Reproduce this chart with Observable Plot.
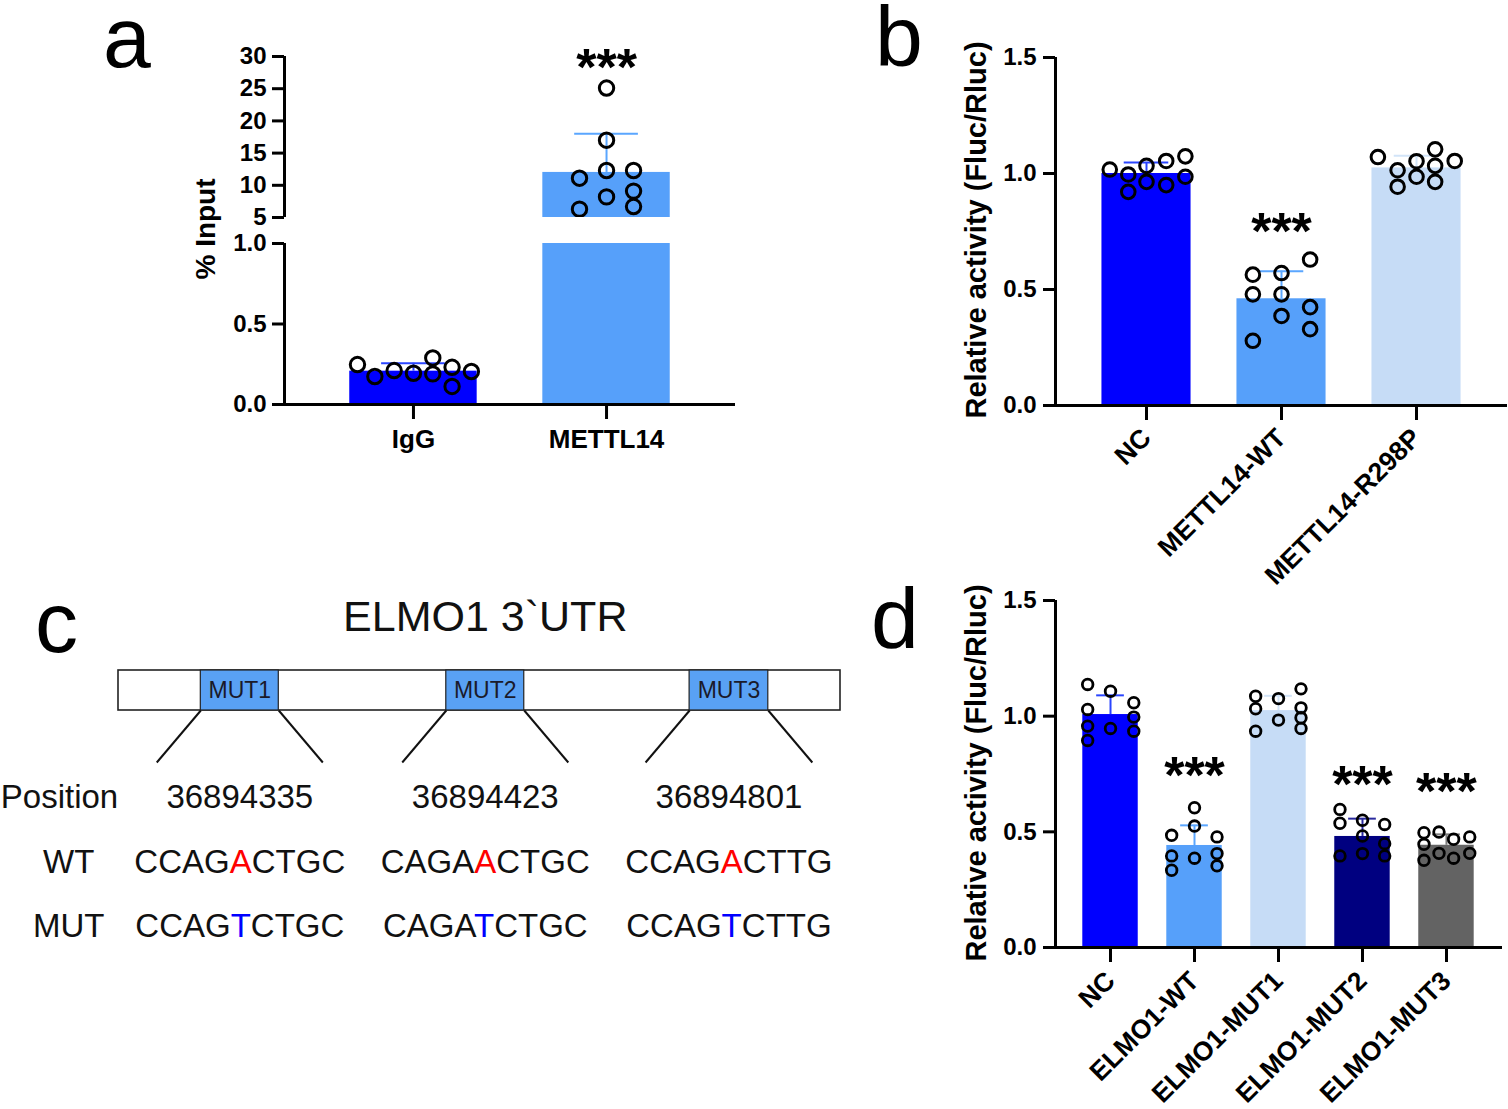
<!DOCTYPE html>
<html><head><meta charset="utf-8">
<script src="https://cdn.jsdelivr.net/npm/d3@7"></script>
<script src="https://cdn.jsdelivr.net/npm/@observablehq/plot@0.6"></script>
<style>
body{margin:0;background:#fff;}
#page{position:relative;width:1508px;height:1109px;overflow:hidden;background:#fff;}
.panel{position:absolute;}
#overlay{position:absolute;left:0;top:0;pointer-events:none;}
</style></head><body>
<div id="page">
  <div id="paUp" class="panel" style="left:0;top:0"></div>
  <div id="paLow" class="panel" style="left:0;top:230px"></div>
  <div id="pb" class="panel" style="left:860px;top:0"></div>
  <div id="pd" class="panel" style="left:860px;top:560px"></div>
  <div id="pc" class="panel" style="left:0;top:580px"></div>
  <svg id="overlay" width="1508" height="1109"></svg>
</div>
<script>
// ---------------- DATA ----------------
// Panel a
const aGroups = ["IgG", "METTL14"];
const aMeans = [0.207, 12.0];
const aErrTop = [0.256, 18.0];
const aValues = [
  [0.248, 0.174, 0.211, 0.194, 0.289, 0.190, 0.112, 0.231, 0.205],
  [25.1, 17.0, 11.1, 12.3, 12.3, 9.1, 8.2, 6.3, 6.7]
];
const aOffsets = [
  [-0.29, -0.2, -0.1, 0, 0.1, 0.1, 0.2, 0.2, 0.3],
  [0, 0, -0.14, 0, 0.14, 0.14, 0, -0.14, 0.14]
];
const aStarGroups = [1];
const aStarLevels = [29.4];
const aUpperTicks = [5, 10, 15, 20, 25, 30];
const aLowerTicks = [0, 0.5, 1.0];

// Panel b
const bGroups = ["NC", "METTL14-WT", "METTL14-R298P"];
const bMeans = [1.0, 0.46, 1.024];
const bErrTop = [1.047, 0.579, 1.076];
const bValues = [
  [1.017, 0.996, 0.921, 1.033, 0.964, 1.054, 0.95, 1.074, 0.986],
  [0.564, 0.479, 0.279, 0.571, 0.479, 0.386, 0.629, 0.424, 0.329],
  [1.071, 1.014, 0.943, 1.053, 0.986, 1.104, 1.033, 0.964, 1.054]
];
const bOffsets = [
  [-0.272, -0.135, -0.135, 0, 0, 0.146, 0.146, 0.288, 0.288],
  [-0.212, -0.212, -0.212, 0, 0, 0, 0.212, 0.212, 0.212],
  [-0.286, -0.14, -0.14, 0, 0, 0.138, 0.138, 0.138, 0.283]
];
const bStarGroups = [1];
const bStarLevels = [0.78];

// Panel d
const dGroups = ["NC", "ELMO1-WT", "ELMO1-MUT1", "ELMO1-MUT2", "ELMO1-MUT3"];
const dMeans = [1.007, 0.441, 1.024, 0.48, 0.442];
const dErrTop = [1.09, 0.528, 1.088, 0.557, 0.489];
const dValues = [
  [1.137, 1.029, 0.957, 0.895, 1.108, 0.947, 1.058, 0.996, 0.935],
  [0.485, 0.396, 0.334, 0.604, 0.525, 0.386, 0.478, 0.406, 0.353],
  [1.086, 1.032, 0.935, 1.076, 0.983, 1.118, 1.036, 0.993, 0.947],
  [0.597, 0.537, 0.396, 0.55, 0.482, 0.406, 0.532, 0.449, 0.396],
  [0.496, 0.446, 0.377, 0.499, 0.407, 0.468, 0.386, 0.478, 0.407]
];
const dOffsets = [
  [-0.272, -0.272, -0.272, -0.272, 0, 0, 0.277, 0.277, 0.277],
  [-0.272, -0.272, -0.272, 0, 0, 0, 0.268, 0.268, 0.268],
  [-0.272, -0.272, -0.272, 0, 0, 0.268, 0.268, 0.268, 0.268],
  [-0.268, -0.268, -0.268, 0, 0, 0, 0.264, 0.264, 0.264],
  [-0.268, -0.268, -0.268, -0.089, -0.089, 0.085, 0.085, 0.277, 0.277]
];
const dStarGroups = [1, 3, 4];
const dStarLevels = [0.775, 0.736, 0.706];
const bdTicks = [0, 0.5, 1.0, 1.5];

// Panel c
const utrTitle = "ELMO1 3`UTR";
const utr = [{start: 0, end: 100}];
const siteNames = ["MUT1", "MUT2", "MUT3"];
const siteStart = [11.4, 45.4, 79.1];
const siteEnd = [22.2, 56.2, 90.0];
const sitePositions = ["36894335", "36894423", "36894801"];
const wtSeqs = ["CCAGACTGC", "CAGAACTGC", "CCAGACTTG"];
const mutSeqs = ["CCAGTCTGC", "CAGATCTGC", "CCAGTCTTG"];
const changedIndex = 4;
const rowLabels = ["Position", "WT", "MUT"];

// ---------------- STYLE ----------------
const FONT = '"Liberation Sans", Arial, Helvetica, sans-serif';
const C_BLUE = "#0000ff", C_LBLUE = "#56a0fa", C_PALE = "#c6dcf6", C_NAVY = "#000080", C_GRAY = "#636363";
const E_BLUE = "#2a45ff", E_LBLUE = "#5aa6ff", E_PALE = "#d2e4f8", E_NAVY = "#2a2a9e", E_GRAY = "#7a7a7a";
const STAR = 52;

function svgStyle(size, weight) {
  return {fontFamily: FONT, fontWeight: weight || "bold", fontSize: size + "px", color: "#000",
          background: "transparent", overflow: "visible"};
}
function rowsOf(groups, means, errs, fills, errFills) {
  return groups.map((g, i) => ({i, g, mean: means[i], err: errs[i], fill: fills[i], efill: errFills[i]}));
}
function pointsOf(values, offsets) {
  return values.flatMap((vs, i) => vs.map((v, j) => ({i, v, px: i + offsets[i][j]})));
}
function starsOf(groups, levels) {
  return groups.map((i, k) => ({i, y: levels[k]}));
}
function dataMarks(rows, pts, o) {
  const half = 0.33, cap = 0.165, clip = !!o.clip;
  return [
    Plot.rectY(rows, {x1: d => d.i - half, x2: d => d.i + half, y1: () => 0, y2: "mean", fill: d => d.fill, clip}),
    Plot.ruleX(rows, {x: "i", y1: "mean", y2: "err", stroke: d => d.efill, strokeWidth: 2, clip}),
    Plot.ruleY(rows, {y: "err", x1: d => d.i - cap, x2: d => d.i + cap, stroke: d => d.efill, strokeWidth: 2, clip}),
    Plot.dot(pts, {x: "px", y: "v", r: o.r, stroke: "#000", strokeWidth: o.sw, fill: "none", clip})
  ];
}
function starMarks(stars, size) {
  return Plot.text(stars, {x: "i", y: "y", text: () => "***", fontSize: size, fontWeight: "bold",
                           fill: "#000", dy: Math.round(size * 0.163)});
}

// ---------------- PANEL A ----------------
const aRows = rowsOf(aGroups, aMeans, aErrTop, [C_BLUE, C_LBLUE], [E_BLUE, E_LBLUE]);
const aPts = pointsOf(aValues, aOffsets);
const aX = {domain: [-0.668, 1.668]};

const paUp = Plot.plot({
  width: 760, height: 220, marginLeft: 284, marginRight: 25, marginTop: 56, marginBottom: 3,
  style: svgStyle(24),
  color: {type: "identity"},
  x: {...aX, axis: null},
  y: {domain: [5, 30]},
  marks: [
    ...dataMarks(aRows, aPts, {r: 7.2, sw: 3, clip: true}),
    Plot.ruleX([aX.domain[0]], {y1: 5, y2: 30, strokeWidth: 3}),
    Plot.axisY({ticks: aUpperTicks, tickFormat: d => String(d), tickSize: 12, tickPadding: 6, strokeWidth: 3, label: null}),
    starMarks(starsOf(aStarGroups, aStarLevels), STAR)
  ]
});
document.getElementById("paUp").appendChild(paUp);

const paLow = Plot.plot({
  width: 760, height: 240, marginLeft: 284, marginRight: 25, marginTop: 13, marginBottom: 66,
  style: svgStyle(24),
  color: {type: "identity"},
  x: aX,
  y: {domain: [0, 1]},
  marks: [
    ...dataMarks(aRows, aPts, {r: 7.2, sw: 3, clip: true}),
    Plot.ruleX([aX.domain[0]], {y1: 0, y2: 1, strokeWidth: 3}),
    Plot.ruleY([0], {strokeWidth: 3}),
    Plot.axisY({ticks: aLowerTicks, tickFormat: d3.format(".1f"), tickSize: 12, tickPadding: 6, strokeWidth: 3, label: null}),
    Plot.axisX({ticks: [0, 1], tickFormat: i => aGroups[i], tickSize: 15, tickPadding: 10, strokeWidth: 3,
                fontSize: 26, label: null})
  ]
});
document.getElementById("paLow").appendChild(paLow);

// ---------------- PANEL B ----------------
const bRows = rowsOf(bGroups, bMeans, bErrTop, [C_BLUE, C_LBLUE, C_PALE], [E_BLUE, E_LBLUE, E_PALE]);
const bPts = pointsOf(bValues, bOffsets);
const bX = {domain: [-0.674, 2.674]};
const pb = Plot.plot({
  width: 648, height: 600, marginLeft: 195, marginRight: 1, marginTop: 57, marginBottom: 195,
  style: svgStyle(24),
  color: {type: "identity"},
  x: bX,
  y: {domain: [0, 1.5]},
  marks: [
    ...dataMarks(bRows, bPts, {r: 6.8, sw: 3}),
    Plot.ruleX([bX.domain[0]], {y1: 0, y2: 1.5, strokeWidth: 3}),
    Plot.ruleY([0], {strokeWidth: 3}),
    Plot.axisY({ticks: bdTicks, tickFormat: d3.format(".1f"), tickSize: 12, tickPadding: 7, strokeWidth: 3, label: null}),
    Plot.axisX({ticks: [0, 1, 2], tickFormat: i => bGroups[i], tickRotate: -45, tickSize: 15, tickPadding: 13,
                strokeWidth: 3, fontSize: 26.5, label: null}),
    starMarks(starsOf(bStarGroups, bStarLevels), STAR)
  ]
});
document.getElementById("pb").appendChild(pb);

// ---------------- PANEL D ----------------
const dRows = rowsOf(dGroups, dMeans, dErrTop, [C_BLUE, C_LBLUE, C_PALE, C_NAVY, C_GRAY],
                     [E_BLUE, E_LBLUE, E_PALE, E_NAVY, E_GRAY]);
const dPts = pointsOf(dValues, dOffsets);
const dX = {domain: [-0.655, 4.667]};
const pd = Plot.plot({
  width: 648, height: 549, marginLeft: 195, marginRight: 6, marginTop: 40, marginBottom: 162,
  style: svgStyle(24),
  color: {type: "identity"},
  x: dX,
  y: {domain: [0, 1.5]},
  marks: [
    ...dataMarks(dRows, dPts, {r: 5.3, sw: 2.8}),
    Plot.ruleX([dX.domain[0]], {y1: 0, y2: 1.5, strokeWidth: 3}),
    Plot.ruleY([0], {strokeWidth: 3}),
    Plot.axisY({ticks: bdTicks, tickFormat: d3.format(".1f"), tickSize: 12, tickPadding: 7, strokeWidth: 3, label: null}),
    Plot.axisX({ticks: [0, 1, 2, 3, 4], tickFormat: i => dGroups[i], tickRotate: -45, tickSize: 15, tickPadding: 14,
                strokeWidth: 3, fontSize: 26.5, label: null}),
    starMarks(starsOf(dStarGroups, dStarLevels), STAR)
  ]
});
document.getElementById("pd").appendChild(pd);

// ---------------- PANEL C (diagram) ----------------
const L = {title: 37, titleX: 50.8, boxTop: 90, boxBottom: 130, flareBottom: 182, flare: 6.1,
           rows: [217, 282, 346], labelStartX: -16.3, labelMidX: -6.9};
const sites = siteNames.map((n, k) => ({name: n, start: siteStart[k], end: siteEnd[k],
                                         mid: (siteStart[k] + siteEnd[k]) / 2}));
const flares = sites.flatMap(s => [
  {x1: s.start, x2: s.start - L.flare},
  {x1: s.end, x2: s.end + L.flare}
]);
const seqTexts = sites.flatMap((s, k) => [
  {x: s.mid, y: L.rows[0], t: sitePositions[k]},
  {x: s.mid, y: L.rows[1], t: wtSeqs[k]},
  {x: s.mid, y: L.rows[2], t: mutSeqs[k]}
]);
const labelTexts = rowLabels.map((t, k) => ({t, y: L.rows[k], start: k === 0}));

const pc = Plot.plot({
  width: 860, height: 380, margin: 0,
  style: svgStyle(33, "normal"),
  x: {domain: [0, 100], range: [118, 840], axis: null},
  y: {domain: [0, 380], range: [0, 380], axis: null},
  marks: [
    Plot.text([utrTitle], {x: () => L.titleX, y: () => L.title, text: d => d, fontSize: 43, fill: "#111"}),
    Plot.rect(utr, {x1: "start", x2: "end", y1: () => L.boxTop, y2: () => L.boxBottom, fill: "white", stroke: "#222", strokeWidth: 1.6}),
    Plot.rect(sites, {x1: "start", x2: "end", y1: () => L.boxTop, y2: () => L.boxBottom, fill: "#59a1f4", stroke: "#222", strokeWidth: 1.2}),
    Plot.text(sites, {x: "mid", y: () => (L.boxTop + L.boxBottom) / 2, text: "name", fontSize: 23, fill: "#1a1a2a"}),
    Plot.link(flares, {x1: "x1", x2: "x2", y1: () => L.boxBottom, y2: () => L.flareBottom, stroke: "#111", strokeWidth: 2}),
    Plot.text(labelTexts.filter(d => d.start), {x: () => L.labelStartX, y: "y", text: "t", textAnchor: "start", fill: "#111"}),
    Plot.text(labelTexts.filter(d => !d.start), {x: () => L.labelMidX, y: "y", text: "t", fill: "#111"}),
    Plot.text(seqTexts, {x: "x", y: "y", text: "t", fill: "#111"})
  ]
});
document.getElementById("pc").appendChild(pc);

// colour the changed nucleotide
const wtSet = new Set(wtSeqs), mutSet = new Set(mutSeqs);
d3.select(pc).selectAll("text").each(function () {
  const t = this.textContent;
  if (!wtSet.has(t) && !mutSet.has(t)) return;
  const color = wtSet.has(t) ? "#ff0000" : "#0000ff";
  const el = d3.select(this);
  el.text(null);
  el.append("tspan").text(t.slice(0, changedIndex));
  el.append("tspan").attr("fill", color).text(t.slice(changedIndex, changedIndex + 1));
  el.append("tspan").text(t.slice(changedIndex + 1));
});

// ---------------- OVERLAY TEXT (panel letters, axis titles) ----------------
const ov = d3.select("#overlay").style("font-family", FONT);
const letters = [
  {t: "a", x: 103, y: 67}, {t: "b", x: 875, y: 66},
  {t: "c", x: 35, y: 652}, {t: "d", x: 871, y: 648}
];
ov.selectAll("text.letter").data(letters).join("text").attr("class", "letter")
  .attr("x", d => d.x).attr("y", d => d.y).attr("font-size", 86).attr("fill", "#000").text(d => d.t);
const yTitles = [
  {t: "% Input", x: 215, y: 229, s: 28},
  {t: "Relative activity (Fluc/Rluc)", x: 986, y: 230, s: 29},
  {t: "Relative activity (Fluc/Rluc)", x: 986, y: 773, s: 29}
];
ov.selectAll("text.ytitle").data(yTitles).join("text").attr("class", "ytitle")
  .attr("transform", d => `translate(${d.x},${d.y}) rotate(-90)`)
  .attr("text-anchor", "middle").attr("font-size", d => d.s).attr("font-weight", "bold").attr("fill", "#000")
  .text(d => d.t);
</script>
</body></html>
